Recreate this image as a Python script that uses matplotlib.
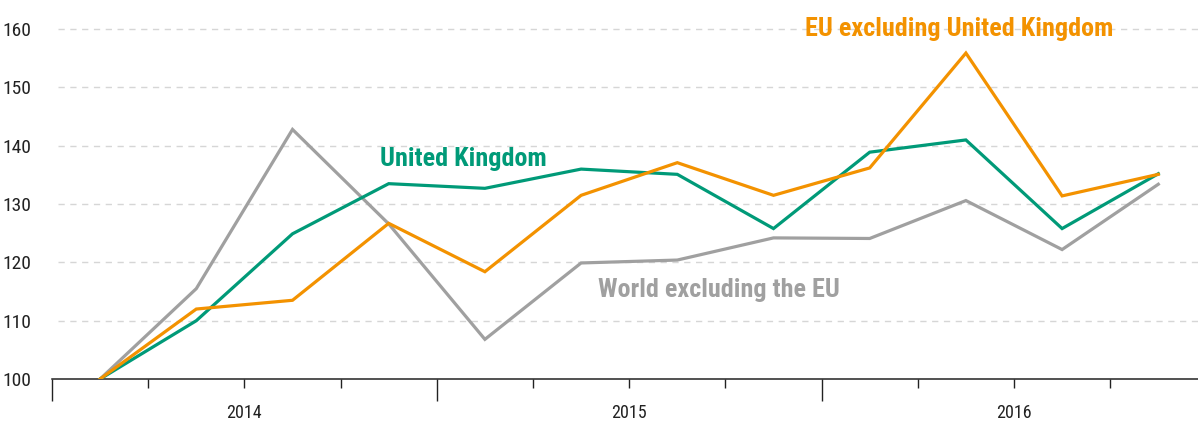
import matplotlib
matplotlib.use("Agg")
import matplotlib.pyplot as plt
from matplotlib.transforms import blended_transform_factory

# Quarterly index values, 2014 Q1 = 100
quarters = ["2014Q1", "2014Q2", "2014Q3", "2014Q4",
            "2015Q1", "2015Q2", "2015Q3", "2015Q4",
            "2016Q1", "2016Q2", "2016Q3", "2016Q4"]
united_kingdom = [100.0, 110.0, 124.9, 133.5, 132.7, 136.0, 135.1, 125.8,
                  138.9, 141.0, 125.8, 135.2]
eu_excl_uk = [100.0, 112.0, 113.5, 126.7, 118.4, 131.5, 137.1, 131.5,
              136.2, 155.9, 131.4, 135.1]
world_excl_eu = [100.0, 115.5, 142.8, 126.6, 106.8, 119.9, 120.4, 124.2,
                 124.1, 130.6, 122.2, 133.4]
years = ["2014", "2015", "2016"]
y_ticks = [100, 110, 120, 130, 140, 150, 160]

GREEN = "#009a78"
ORANGE = "#f39200"
GREY = "#a0a0a0"

plt.rcParams["font.family"] = ["Roboto Condensed", "DejaVu Sans"]

fig = plt.figure(figsize=(11.98, 4.23), dpi=100)
W, H = 1198, 423
ax = fig.add_axes([52 / W, (H - 379) / H, (W - 52) / W, 379 / H])

x = [i + 0.5 for i in range(len(quarters))]
ax.set_xlim(0, (W - 52) / 96.2)
ax.set_ylim(100, 165)

# dashed horizontal guides
for v in y_ticks[1:]:
    ax.axhline(v, xmin=0.005, xmax=1, color="#d6d6d6", lw=1.0,
               ls=(0, (4.5, 4.0)), zorder=1)

lw = 2.3
ax.plot(x, world_excl_eu, color=GREY, lw=lw, zorder=3, solid_joinstyle="miter")
ax.plot(x, united_kingdom, color=GREEN, lw=lw, zorder=4, solid_joinstyle="miter")
ax.plot(x, eu_excl_uk, color=ORANGE, lw=lw, zorder=5, solid_joinstyle="miter")

# series labels
label_kw = dict(fontsize=18.8, fontweight="bold", va="baseline", ha="left")
ax.text(3.41, 136.6, "United Kingdom", color=GREEN, **label_kw)
ax.text(7.83, 158.9, "EU excluding United Kingdom", color=ORANGE, **label_kw)
ax.text(5.68, 114.1, "World excluding the EU", color=GREY, **label_kw)

# axes styling
for side in ("left", "right", "top"):
    ax.spines[side].set_visible(False)
ax.spines["bottom"].set_linewidth(1.1)
ax.spines["bottom"].set_color("#222222")

ax.set_yticks(y_ticks)
ax.set_yticklabels([str(v) for v in y_ticks], fontsize=14, color="#222222")
ax.tick_params(axis="y", length=0, pad=15)

ax.set_xticks([0, 4, 8])
ax.set_xticklabels([])
ax.set_xticks([1, 2, 3, 5, 6, 7, 9, 10, 11], minor=True)
ax.tick_params(axis="x", which="major", length=15.5, width=1.0, color="#222222")
ax.tick_params(axis="x", which="minor", length=6.5, width=1.0, color="#222222")

trans = blended_transform_factory(ax.transData, fig.transFigure)
for i, yr in enumerate(years):
    ax.text(2 + 4 * i, (H - 413) / H, yr, transform=trans, ha="center",
            va="center", fontsize=13, color="#222222")

fig.savefig("out.png", dpi=100)
